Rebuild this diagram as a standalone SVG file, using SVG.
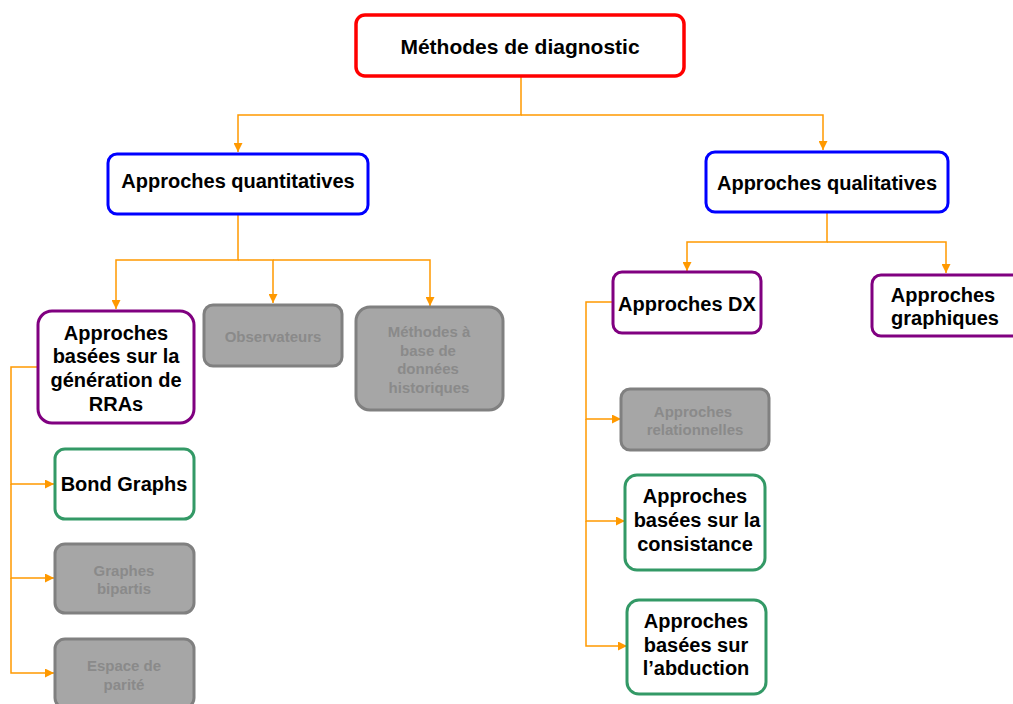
<svg xmlns="http://www.w3.org/2000/svg" width="1013" height="704" viewBox="0 0 1013 704">
<defs>
<marker id="ah" viewBox="0 0 10 10" refX="10" refY="5" markerWidth="9" markerHeight="9" markerUnits="userSpaceOnUse" orient="auto">
<path d="M0,0 L10,5 L0,10 z" fill="#ff9900"/>
</marker>
<style>
.c{fill:none;stroke:#ff9900;stroke-width:1.5}
.red{fill:#fff;stroke:#ff0000;stroke-width:3.5}
.blue{fill:#fff;stroke:#0000ff;stroke-width:3}
.pur{fill:#fff;stroke:#800080;stroke-width:3}
.grn{fill:#fff;stroke:#339966;stroke-width:3}
.gry{fill:#a6a6a6;stroke:#808080;stroke-width:3}
text{font-family:"Liberation Sans",Arial,sans-serif;font-weight:bold;text-anchor:middle;dominant-baseline:central}
.t{fill:#000;font-size:20px}
.g{fill:#8a8a8a;font-size:15px}
</style>
</defs>
<g id="connectors">
<path class="c" d="M521,76 V115 H238 V152" marker-end="url(#ah)"/>
<path class="c" d="M521,115 H823 V150" marker-end="url(#ah)"/>
<path class="c" d="M238,214 V260 H116 V309" marker-end="url(#ah)"/>
<path class="c" d="M238,260 H273 V303" marker-end="url(#ah)"/>
<path class="c" d="M273,260 H430 V306" marker-end="url(#ah)"/>
<path class="c" d="M827,212 V242 H687 V271" marker-end="url(#ah)"/>
<path class="c" d="M827,242 H946 V273" marker-end="url(#ah)"/>
<path class="c" d="M38,367 H11 V484 H54" marker-end="url(#ah)"/>
<path class="c" d="M11,484 V578 H54" marker-end="url(#ah)"/>
<path class="c" d="M11,578 V673 H54" marker-end="url(#ah)"/>
<path class="c" d="M613,302 H586 V419 H621" marker-end="url(#ah)"/>
<path class="c" d="M586,419 V521 H625" marker-end="url(#ah)"/>
<path class="c" d="M586,521 V646 H627" marker-end="url(#ah)"/>
</g>
<g id="n-methodes"><rect class="red" x="356" y="15" width="328" height="61" rx="9"/><text class="t" x="520" y="46" style="font-size:21px">Méthodes de diagnostic</text></g>
<g id="n-quanti"><rect class="blue" x="108" y="154" width="260" height="60" rx="9"/><text class="t" x="238" y="181">Approches quantitatives</text></g>
<g id="n-quali"><rect class="blue" x="706" y="152" width="242" height="60" rx="9"/><text class="t" x="827" y="183">Approches qualitatives</text></g>
<g id="n-rra"><rect class="pur" x="38" y="311" width="156" height="112" rx="14"/>
<text class="t" x="116" y="333">Approches</text><text class="t" x="116" y="356">basées sur la</text><text class="t" x="116" y="380">génération de</text><text class="t" x="116" y="404">RRAs</text></g>
<g id="n-obs"><rect class="gry" x="204" y="305" width="138" height="61" rx="9"/><text class="g" x="273" y="336">Observateurs</text></g>
<g id="n-hist"><rect class="gry" x="356" y="307" width="147" height="103" rx="14"/>
<text class="g" x="429" y="331">Méthodes à</text><text class="g" x="428" y="350">base de</text><text class="g" x="428" y="368">données</text><text class="g" x="429" y="387">historiques</text></g>
<g id="n-bond"><rect class="grn" x="55" y="449" width="139" height="70" rx="10"/><text class="t" x="124" y="484">Bond Graphs</text></g>
<g id="n-bip"><rect class="gry" x="55" y="544" width="139" height="69" rx="10"/><text class="g" x="124" y="570">Graphes</text><text class="g" x="124" y="588">bipartis</text></g>
<g id="n-par"><rect class="gry" x="55" y="639" width="139" height="69" rx="10"/><text class="g" x="124" y="665">Espace de</text><text class="g" x="124" y="684">parité</text></g>
<g id="n-dx"><rect class="pur" x="613" y="272" width="148" height="61" rx="9"/><text class="t" x="687" y="304">Approches DX</text></g>
<g id="n-graph"><rect class="pur" x="872" y="275" width="150" height="61" rx="9"/><text class="t" x="943" y="295">Approches</text><text class="t" x="945" y="318">graphiques</text></g>
<g id="n-rel"><rect class="gry" x="621" y="389" width="148" height="61" rx="9"/><text class="g" x="693" y="411">Approches</text><text class="g" x="695" y="429">relationnelles</text></g>
<g id="n-cons"><rect class="grn" x="625" y="475" width="140" height="95" rx="12"/><text class="t" x="695" y="496">Approches</text><text class="t" x="697" y="520">basées sur la</text><text class="t" x="695" y="544">consistance</text></g>
<g id="n-abd"><rect class="grn" x="627" y="600" width="139" height="94" rx="12"/><text class="t" x="696" y="621">Approches</text><text class="t" x="696" y="645">basées sur</text><text class="t" x="696" y="668">l’abduction</text></g>
</svg>
